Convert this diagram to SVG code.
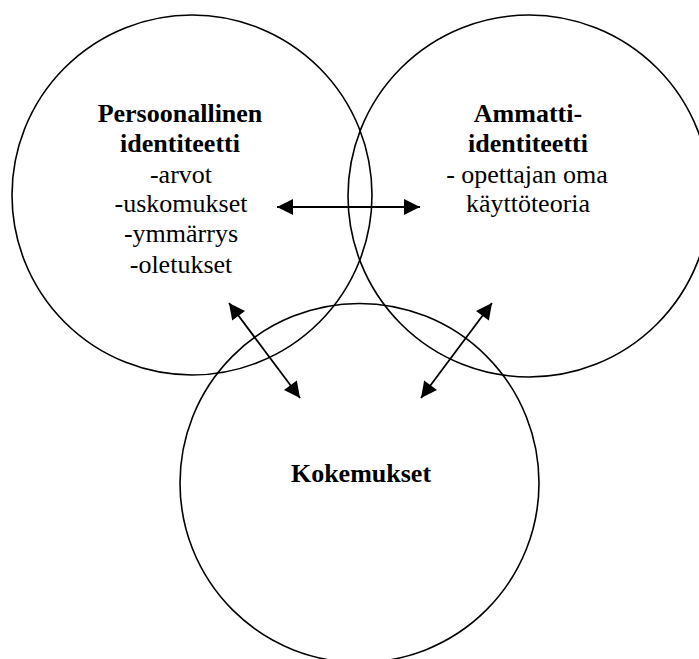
<svg xmlns="http://www.w3.org/2000/svg" width="699" height="659" viewBox="0 0 699 659">
  <style>
    .ring { fill: none; stroke: #000; stroke-width: 1.6; }
    .link { fill: none; stroke: #000; stroke-width: 1.8; marker-start: url(#head); marker-end: url(#head); }
  </style>
  <defs>
    <marker id="head" viewBox="0 0 10 10" refX="10" refY="5" markerWidth="17" markerHeight="16" markerUnits="userSpaceOnUse" orient="auto-start-reverse">
      <path d="M0,0 L10,5 L0,10 Z" fill="#000"/>
    </marker>
  </defs>
  <rect width="699" height="659" fill="#fff"/>

  <g id="personal">
    <circle class="ring" cx="192" cy="195" r="180"/>
    <text x="180" y="122" font-family="Liberation Serif" font-size="26" font-weight="bold" text-anchor="middle">Persoonallinen</text>
    <text x="180" y="152" font-family="Liberation Serif" font-size="26" font-weight="bold" text-anchor="middle">identiteetti</text>
    <text x="181" y="183" font-family="Liberation Serif" font-size="26" text-anchor="middle">-arvot</text>
    <text x="181" y="212" font-family="Liberation Serif" font-size="26" text-anchor="middle">-uskomukset</text>
    <text x="181" y="242" font-family="Liberation Serif" font-size="26" text-anchor="middle">-ymmärrys</text>
    <text x="181" y="273" font-family="Liberation Serif" font-size="26" text-anchor="middle">-oletukset</text>
  </g>

  <g id="professional">
    <circle class="ring" cx="529" cy="196" r="181"/>
    <text x="528" y="122" font-family="Liberation Serif" font-size="26" font-weight="bold" text-anchor="middle">Ammatti-</text>
    <text x="528" y="152" font-family="Liberation Serif" font-size="26" font-weight="bold" text-anchor="middle">identiteetti</text>
    <text x="527" y="183" font-family="Liberation Serif" font-size="26" text-anchor="middle">- opettajan oma</text>
    <text x="528" y="212" font-family="Liberation Serif" font-size="26" text-anchor="middle">käyttöteoria</text>
  </g>

  <g id="experiences">
    <circle class="ring" cx="359.5" cy="483" r="179.5"/>
    <text x="361" y="482" font-family="Liberation Serif" font-size="26" font-weight="bold" text-anchor="middle">Kokemukset</text>
  </g>

  <g id="connectors">
    <line class="link" x1="277" y1="207" x2="420" y2="207"/>
    <line class="link" x1="229" y1="303" x2="300" y2="398"/>
    <line class="link" x1="492" y1="303" x2="421" y2="398"/>
  </g>
</svg>
